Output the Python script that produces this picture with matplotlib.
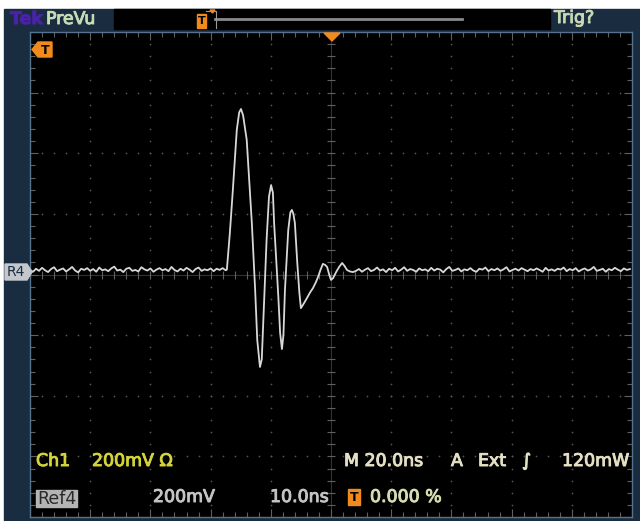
import matplotlib.pyplot as plt
import matplotlib.patheffects as pe
import numpy as np
from matplotlib.patches import Rectangle, Polygon

# scope settings
ns_per_div = 20
mv_per_div = 200

# pulse (ns, mV)
pulse_t = [-35.0, -34.6, -33.6, -32.6, -31.3, -30.5, -29.9, -29.2, -28.0, -26.3, -25.2, -24.5,
           -23.6, -23.0, -22.3, -21.4, -20.6, -19.9, -19.3, -18.9, -17.5, -16.9, -16.3, -15.8,
           -15.3, -14.2, -13.5, -13.0, -12.5, -12.0, -11.2, -10.5, -10.0, -9.3, -8.0, -7.0,
           -6.0, -5.0, -4.3, -3.5, -2.7, -2.0, -1.3, -0.6, 0.0, 0.7, 1.7, 2.7, 3.7, 4.5, 5.3, 6.3, 7.3]
pulse_mv = [14, 16, 137, 280, 477, 535, 546, 525, 444, 170, -51, -216,
            -305, -280, -106, 114, 257, 295, 270, 170, -73, -193, -246, -200,
            -51, 147, 205, 213, 200, 170, 38, -61, -111, -100, -78, -60,
            -45, -25, -8, 15, 35, 32, 25, 0, -18, -12, 8, 25, 38, 28, 15, 10, 8]

# baseline noise before / after the pulse (mV), sample step 1 ns
noise_left = [15, 9, 19, 12, 22, 14, 8, 18, 24, 11,
              16, 20, 10, 17, 25, 13, 7, 19, 15, 21,
              12, 18, 9, 23, 14, 17, 11, 20, 26, 13,
              16, 8, 19, 22, 12, 15, 10, 24, 17, 13,
              20, 9, 16, 21, 14, 18, 11, 25, 15, 10,
              19, 13, 22, 16, 8, 18, 23, 12, 17, 14,
              20, 11, 19, 15, 21]
noise_right = [12, 18, 9, 16, 21, 11, 15, 23, 13, 17,
               8, 19, 14, 22, 10, 16, 24, 12, 18, 15,
               9, 20, 14, 17, 11, 22, 13, 19, 16, 7,
               18, 25, 12, 15, 20, 10, 17, 14, 21, 13,
               9, 19, 16, 23, 11, 18, 14, 20, 12, 17,
               24, 10, 15, 19, 13, 21, 16, 11, 18, 14,
               20, 15, 9, 22, 13, 17, 12, 19, 16, 23,
               11, 18, 14, 21, 10, 16, 20, 13, 17, 25,
               12, 15, 19, 9, 18, 14, 22, 16, 11, 20,
               15, 18]

t_left = -100 + 1.0 * np.arange(len(noise_left))
t_right = 8.3 + 1.0 * np.arange(len(noise_right))
t = np.concatenate([t_left, pulse_t, t_right])
v = np.concatenate([noise_left, pulse_mv, noise_right])

W, H = 640, 521
fig = plt.figure(figsize=(W / 100, H / 100), dpi=100, facecolor='white')

# background / frame in pixel coords
bg = fig.add_axes([0, 0, 1, 1], zorder=0)
bg.set_xlim(0, W)
bg.set_ylim(H, 0)
bg.axis('off')
navy = '#1a2c40'
bg.add_patch(Rectangle((4, 9), W - 4, H - 9, color=navy))
bg.add_patch(Rectangle((114, 9), 436, 20, color='black'))

# graticule
gx0, gx1, gy0, gy1 = 30, 632, 32, 517
ax = fig.add_axes([gx0 / W, 1 - gy1 / H, (gx1 - gx0) / W, (gy1 - gy0) / H], zorder=1)
ax.set_facecolor('black')
ax.set_xlim(-5 * ns_per_div, 5 * ns_per_div)
ax.set_ylim(-4 * mv_per_div, 4 * mv_per_div)
ax.set_xticks(np.arange(-100, 101, 20))
ax.set_xticks(np.arange(-100, 101, 4), minor=True)
ax.set_yticks(np.arange(-800, 801, 200))
ax.set_yticks(np.arange(-800, 801, 40), minor=True)
ax.tick_params(which='both', direction='in', top=True, right=True, colors='#606060',
               labelbottom=False, labelleft=False, width=0.8)
ax.tick_params(which='major', length=6)
ax.tick_params(which='minor', length=3.5)
for s in ax.spines.values():
    s.set_color('#55728f')
    s.set_linewidth(1)

# dotted grid lines
gx, gy = [], []
for yy in range(-600, 601, 200):
    for xx in range(-96, 97, 4):
        gx.append(xx); gy.append(yy)
for xx in range(-80, 81, 20):
    for yy in range(-760, 761, 40):
        gx.append(xx); gy.append(yy)
ax.scatter(gx, gy, s=1.6, color='#555555', lw=0, zorder=1)

# center crosshair
ax.axvline(0, color='#333333', lw=0.8, zorder=1)
ax.axhline(0, color='#333333', lw=0.8, zorder=1)
ax.scatter(np.zeros(41), np.arange(-800, 801, 40), marker='_', s=30, color='#606060', lw=0.8, zorder=1)
ax.scatter(np.arange(-100, 101, 4), np.zeros(51), marker='|', s=30, color='#606060', lw=0.8, zorder=1)

ax.plot(t, v, color='#d8d8d8', lw=1.3, zorder=3)

# overlay text and markers
ov = fig.add_axes([0, 0, 1, 1], zorder=2)
ov.set_xlim(0, W)
ov.set_ylim(H, 0)
ov.axis('off')
ov.patch.set_alpha(0)

fs = 12.5


def label(x, y, s, c, **kw):
    ov.text(x, y, s, color=c, fontsize=kw.pop('size', fs), va='center',
            path_effects=[pe.withStroke(linewidth=0.7, foreground=c)], **kw)


label(10, 19, 'Tek', '#4a22a8', fontweight='bold')
label(46, 19, 'PreVu', '#c8dcb4')
label(554, 18, 'Trig?', '#c8d8b4')

# record position bar
ov.plot([215, 462], [19, 19], color='#8a8a8a', lw=2)
ov.plot([206, 216, 216], [11, 11, 28], color='#9a9a9a', lw=0.8)
ov.add_patch(Polygon([(210, 10), (215, 10), (212.5, 13)], color='#f08a1c'))
ov.add_patch(Rectangle((197, 14), 9, 14, color='#f08a1c'))
ov.text(201.5, 21, 'T', color='black', fontsize=8, fontweight='bold', ha='center', va='center')

# trigger markers
orange = '#f08a1c'
ov.add_patch(Polygon([(32, 49.5), (38, 42), (52, 42), (52, 57), (38, 57)], color=orange))
ov.text(45, 50, 'T', color='black', fontsize=9, fontweight='bold', ha='center', va='center')
ov.add_patch(Polygon([(324, 33), (340, 33), (332, 41)], color=orange))

# reference marker
ov.add_patch(Polygon([(5, 264), (27, 264), (32, 272), (27, 280), (5, 280)], color='#c4c8cc'))
ov.text(16, 272.5, 'R4', color='#1a2c40', fontsize=10, ha='center', va='center')

# readouts
yellow = '#d4d43a'
cream = '#e4e0c4'
grey = '#c4c4c4'
pale = '#d8dcb0'
label(36, 461, 'Ch1', yellow)
label(92, 461, '200mV \u03a9', yellow)
label(344, 461, 'M 20.0ns', cream)
label(451, 461, 'A', cream)
label(478, 461, 'Ext', cream)
label(522, 461, '\u222b', cream)
label(562, 461, '120mW', cream)

ov.add_patch(Rectangle((36, 490), 41, 17, color='#b4b4b4'))
ov.text(37, 498.5, 'Ref4', color='#2a2a2a', fontsize=fs, va='center')
label(153, 497, '200mV', grey)
label(270, 497, '10.0ns', grey)
ov.add_patch(Rectangle((348, 489), 12, 16, color=orange))
ov.text(354, 497.5, 'T', color='black', fontsize=9, fontweight='bold', ha='center', va='center')
label(370, 497, '0.000 %', pale)

fig.savefig('out.png', dpi=100, facecolor='white')
